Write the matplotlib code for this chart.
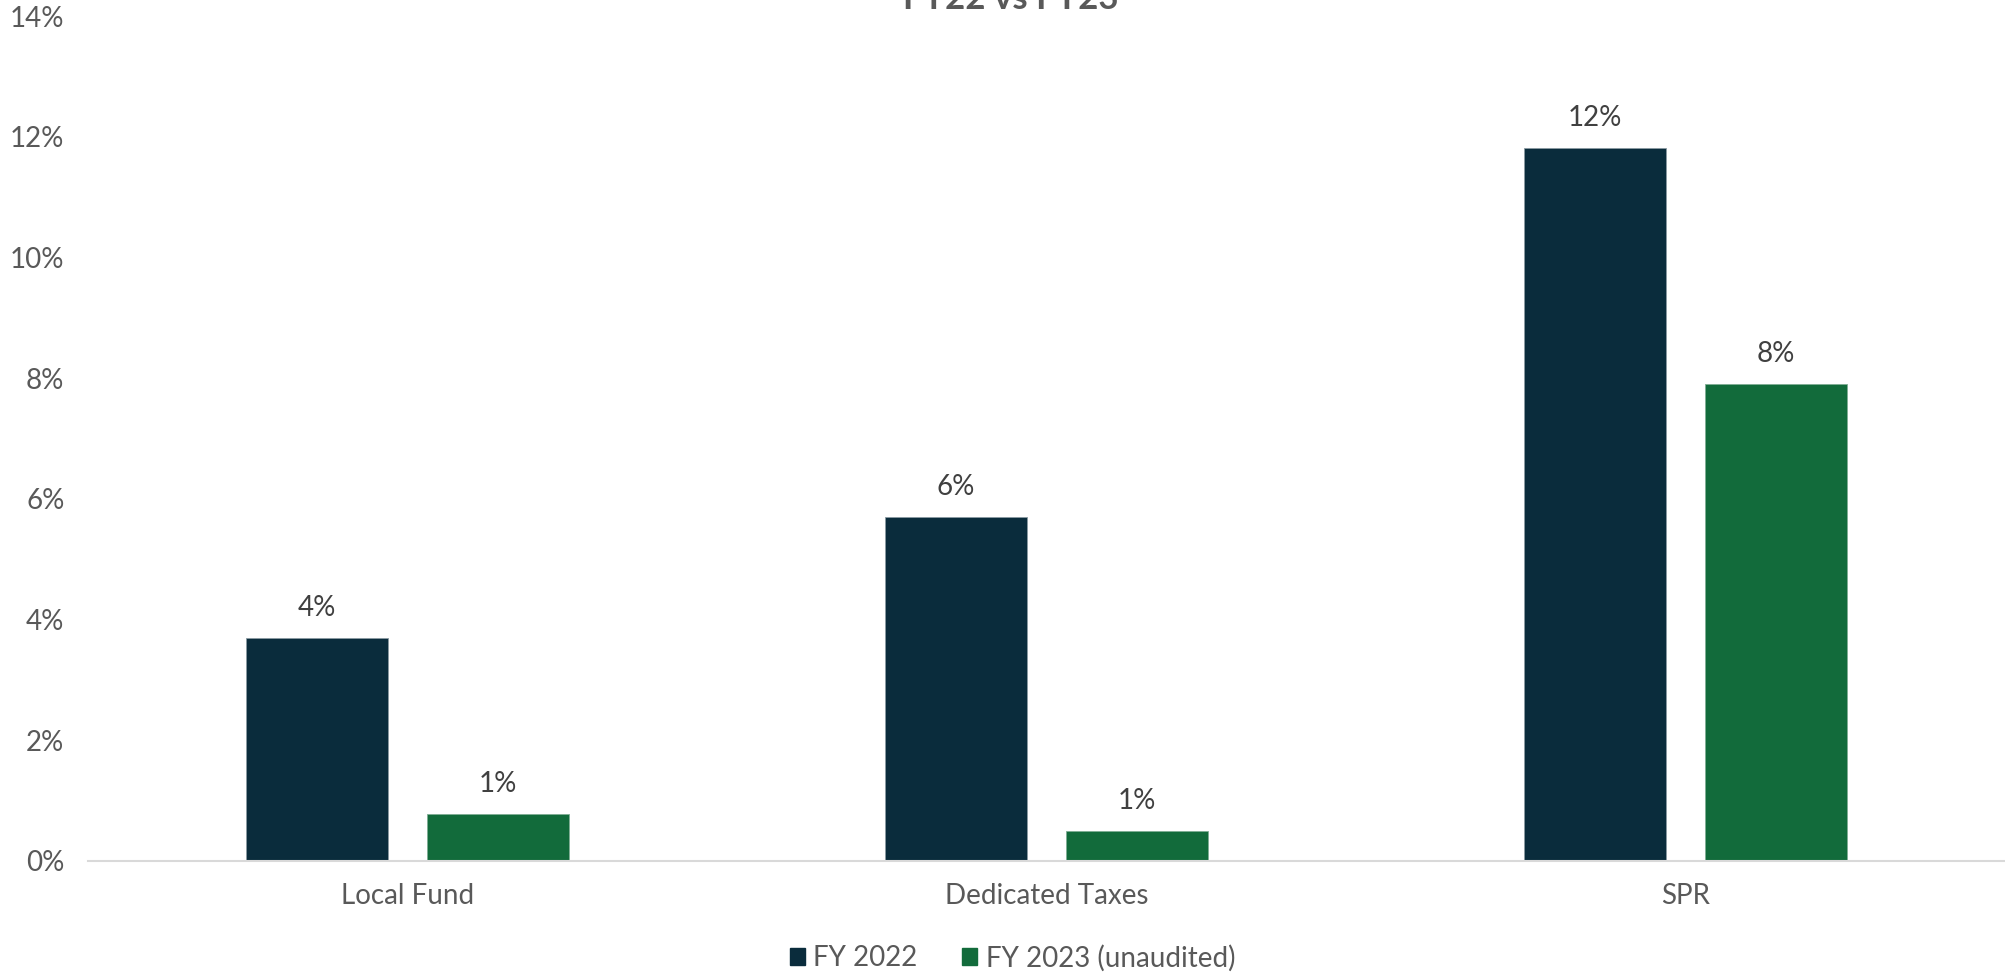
import numpy as np
import matplotlib
matplotlib.use("Agg")
import matplotlib.pyplot as plt
from matplotlib.patches import Patch

"###################### data ######################"
categories = ["Local Fund", "Dedicated Taxes", "SPR"]
fy2022 = [3.69, 5.70, 11.82]
fy2023 = [0.78, 0.49, 7.91]
labels_2022 = ["4%", "6%", "12%"]
labels_2023 = ["1%", "1%", "8%"]
yticks = [0, 2, 4, 6, 8, 10, 12, 14]

##Plot customization
c22 = "#0A2C3C"
c23 = "#126B3B"
txt = "#595959"
font = "Lato"
tick_size = 20

plt.rcParams["font.family"] = [font, "DejaVu Sans"]

fig = plt.figure(figsize=(20.05, 9.74), dpi=100)
ax = fig.add_axes([0.0439, 0.1164, 0.9561, 0.8668])

x = np.arange(len(categories))
w = 0.222
off = 0.142
b1 = ax.bar(x - off, fy2022, w, color=c22, edgecolor="#8a9aa2", linewidth=0.6)
b2 = ax.bar(x + off, fy2023, w, color=c23, edgecolor="#7fae94", linewidth=0.6)

for bars, labs in [(b1, labels_2022), (b2, labels_2023)]:
    for bar, lab in zip(bars, labs):
        ax.annotate(lab, (bar.get_x() + bar.get_width() / 2, bar.get_height()),
                    xytext=(0, 12), textcoords="offset points", ha="center", va="bottom",
                    fontsize=tick_size, color="#404040")

ax.set_xlim(-0.5, 2.5)
ax.set_ylim(0, 14)
ax.set_yticks(yticks)
ax.set_yticklabels([f"{t}%" for t in yticks])
ax.set_xticks(x)
ax.set_xticklabels(categories)
ax.tick_params(axis="y", length=0, pad=17, labelsize=tick_size, labelcolor=txt)
ax.tick_params(axis="x", length=0, pad=16, labelsize=tick_size, labelcolor=txt)
for s in ["top", "right", "left"]:
    ax.spines[s].set_visible(False)
ax.spines["bottom"].set_color("#D9D9D9")
ax.spines["bottom"].set_linewidth(1.5)

# title sits mostly above the top edge, as in the source
fig.text(0.504, 0.9908, "FY22 vs FY23", ha="center", va="baseline",
         fontsize=25, fontweight="bold", color=txt)

handles = [Patch(color=c22), Patch(color=c23)]
leg = fig.legend(handles, ["FY 2022", "FY 2023 (unaudited)"], loc="center",
                 bbox_to_anchor=(0.505, 0.0164), ncol=2, frameon=False,
                 handlelength=0.55, handleheight=0.55, handletextpad=0.3,
                 columnspacing=1.6, prop={"size": tick_size})
for t in leg.get_texts():
    t.set_color(txt)

fig.savefig("out.png", dpi=100)
